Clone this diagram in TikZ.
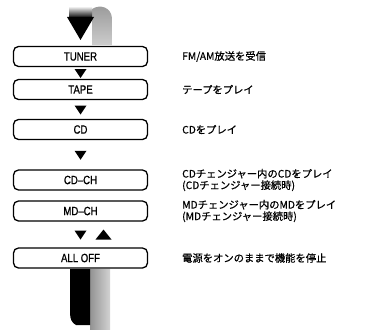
\documentclass[tikz,border=0pt]{standalone}
\usepackage{fontspec}
\newfontfamily\jpfont[FakeBold=0.6]{Noto Sans CJK JP}
\newfontfamily\condfont[FakeStretch=0.8,FakeBold=0.8]{Liberation Sans}
\begin{document}
\begin{tikzpicture}[x=1pt,y=-1pt,
  modebox/.style={draw,line width=1.3pt,rounded corners=5pt,minimum width=134pt,minimum height=20pt,inner sep=0pt,font=\condfont\fontsize{12}{13}\selectfont},
  desc/.style={anchor=west,inner sep=0pt,align=left,font=\jpfont\fontsize{10.3}{11.5}\selectfont}]
\useasboundingbox (0,0) rectangle (371,329);
% boxes
\node[modebox] (tuner) at (80.5,56.5) {TUNER};
\node[modebox] (tape)  at (80.5,89.5) {TAPE};
\node[modebox] (cd)    at (80.5,129.5) {CD};
\node[modebox] (cdch)  at (80.5,180) {CD–CH};
\node[modebox] (mdch)  at (80.5,211) {MD–CH};
\node[modebox] (alloff) at (80.5,258) {ALL OFF};
% descriptions
\node[desc] (d1) at (182,56.5) {FM/AM放送を受信};
\node[desc] (d2) at (182,89.5) {テープをプレイ};
\node[desc] (d3) at (182,129.5) {CDをプレイ};
\node[desc] (d4) at (182,180) {CDチェンジャー内のCDをプレイ\\(CDチェンジャー接続時)};
\node[desc] (d5) at (182,211) {MDチェンジャー内のMDをプレイ\\(MDチェンジャー接続時)};
\node[desc] (d6) at (182,258) {電源をオンのままで機能を停止};
% small triangles between boxes
\path (tuner.south) -- (tape.north) coordinate[pos=0.5] (t1);
\path (tape.south) -- (cd.north) coordinate[pos=0.5] (t2);
\path (cd.south) -- (cdch.north) coordinate[pos=0.5] (t3);
\path (mdch.south) -- (alloff.north) coordinate[pos=0.5] (t4);
\foreach \c in {t1,t2,t3}{
  \fill ([shift={(-6,-4)}]\c) -- ([shift={(6,-4)}]\c) -- ([shift={(0,5)}]\c) -- cycle;
}
\fill ([shift={(-6,-4)}]t4) -- ([shift={(6,-4)}]t4) -- ([shift={(0,5)}]t4) -- cycle;
\fill ([shift={(15,5)}]t4) -- ([shift={(31,5)}]t4) -- ([shift={(23,-5)}]t4) -- cycle;
% top loop arrow
\shade[top color=gray!80,bottom color=gray!40] (92,45) -- (92,9) .. controls (100,4) and (111,7) .. (112,18) -- (112,45) -- cycle;
\shade[top color=gray!30,bottom color=black] (69,8) -- (92,8) -- (92,18) -- (69,18) -- cycle;
\fill (67,17) -- (94,17) -- (80.5,40) -- cycle;
% bottom loop arrow
\shade[left color=gray!85,right color=gray!35] (90,269) -- (110,269) -- (110,329) -- (90,329) -- cycle;
\fill (70,269) -- (90,269) -- (90,325) -- (76,325) .. controls (72,323) and (70,319) .. (70,313) -- cycle;
\end{tikzpicture}
\end{document}
